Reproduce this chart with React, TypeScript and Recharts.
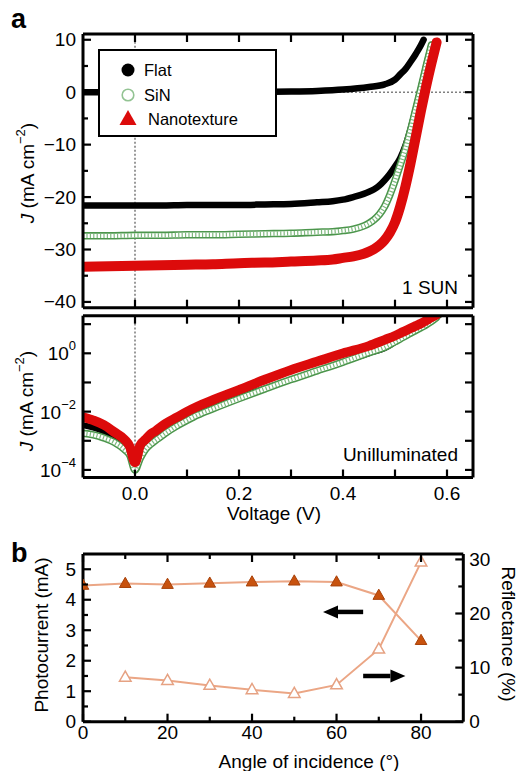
import React from 'react';
import { ComposedChart, Line, XAxis, YAxis, ReferenceLine, Legend } from 'recharts';

const FONT = '"Liberation Sans", Arial, Helvetica, sans-serif';

// ================= DATA =================
// Panel a, 1 SUN: current density J (mA cm^-2) vs voltage (V)
const lightVoltage = [-0.1, -0.05, 0, 0.05, 0.1, 0.15, 0.2, 0.25, 0.3, 0.35, 0.38, 0.4, 0.42, 0.44, 0.45, 0.46, 0.47, 0.48, 0.49, 0.5, 0.51, 0.52, 0.53, 0.54, 0.55, 0.56, 0.57, 0.58];
const flatLightJ = [-21.6, -21.6, -21.6, -21.6, -21.5, -21.5, -21.5, -21.4, -21.3, -21.0, -20.8, -20.5, -20.0, -19.4, -19.0, -18.5, -17.8, -16.8, -15.6, -14.2, -12.6, -10.2, -7.0, -3.2, 0.8, 5.0, 9.0, null];
const sinLightJ = [-27.4, -27.4, -27.3, -27.3, -27.2, -27.2, -27.1, -27.0, -26.9, -26.7, -26.6, -26.4, -26.1, -25.5, -25.0, -24.3, -23.3, -21.8, -19.6, -16.9, -13.9, -10.8, -7.2, -3.2, 0.8, 5.0, 9.0, null];
const nanoLightJ = [-33.3, -33.2, -33.1, -33.0, -32.9, -32.8, -32.6, -32.5, -32.3, -32.1, -31.9, -31.6, -31.3, -30.8, -30.4, -29.9, -29.2, -28.2, -26.8, -24.8, -21.8, -18.0, -13.5, -8.5, -3.5, 1.2, 5.5, 9.5];

// Panel a, unilluminated: |J| (mA cm^-2) vs voltage (V)
const darkVoltage = [-0.1, -0.08, -0.06, -0.04, -0.02, -0.01, 0, 0.01, 0.02, 0.03, 0.04, 0.05, 0.06, 0.08, 0.1, 0.12, 0.15, 0.2, 0.25, 0.3, 0.35, 0.4, 0.45, 0.48, 0.5, 0.51, 0.52, 0.53, 0.54, 0.55, 0.555, 0.56, 0.57, 0.58, 0.59];
const flatDarkJ = [3.4e-3, 2.8e-3, 2.1e-3, 1.4e-3, 8.0e-4, 4.5e-4, 1.3e-4, 4.0e-4, 7.0e-4, 1.05e-3, 1.45e-3, 1.9e-3, 2.5e-3, 4.0e-3, 6.3e-3, 9.1e-3, 1.5e-2, 3.2e-2, 6.3e-2, 0.126, 0.25, 0.5, 1.0, 1.5, 2.4, 3.4, 4.4, 5.8, 7.3, 9.0, 10.0, 11.5, 14.5, 18, 23];
const sinDarkJ = [1.8e-3, 1.6e-3, 1.26e-3, 8.9e-4, 5.0e-4, 3.2e-4, 1.0e-4, 2.5e-4, 5.0e-4, 7.6e-4, 1.05e-3, 1.4e-3, 1.9e-3, 3.2e-3, 5.0e-3, 7.6e-3, 1.26e-2, 2.8e-2, 6.0e-2, 0.126, 0.25, 0.5, 1.05, 1.6, 2.5, 3.1, 3.9, 4.9, 6.1, 7.6, 8.5, 9.6, 12.5, 17, null];
const nanoDarkJ = [6.5e-3, 5.0e-3, 3.5e-3, 2.0e-3, 1.1e-3, 6.3e-4, 1.8e-4, 7.0e-4, 1.1e-3, 1.7e-3, 2.2e-3, 3.0e-3, 4.0e-3, 6.3e-3, 1.0e-2, 1.5e-2, 2.5e-2, 5.6e-2, 0.126, 0.27, 0.52, 1.0, 1.8, 2.9, 4.0, 4.9, 5.9, 7.2, 8.7, 10.5, 11.8, 13.2, 17, 21, null];

// Panel b: angle of incidence (deg), photocurrent (mA), reflectance (%)
const angleDeg = [0, 10, 20, 30, 40, 50, 60, 70, 80];
const photocurrentMA = [4.47, 4.53, 4.5, 4.54, 4.58, 4.61, 4.58, 4.14, 2.66];
const reflectancePct = [null, 8.2, 7.6, 6.7, 5.9, 5.2, 6.8, 13.4, 29.5];

// Ticks
const voltTicks = [0, 0.1, 0.2, 0.3, 0.4, 0.5, 0.6];
const voltLabels = [0, 0.2, 0.4, 0.6];
const jTicks = [-40, -35, -30, -25, -20, -15, -10, -5, 0, 5, 10];
const jLabels = [-40, -30, -20, -10, 0, 10];
const logTicks = [1e-4, 1e-3, 1e-2, 1e-1, 1, 10];
const logLabels = [1e-4, 1e-2, 1];
const angleTicks = [0, 10, 20, 30, 40, 50, 60, 70, 80];
const angleLabels = [0, 20, 40, 60, 80];
const pcTicks = [0, 0.5, 1, 1.5, 2, 2.5, 3, 3.5, 4, 4.5, 5];
const pcLabels = [0, 1, 2, 3, 4, 5];
const rfTicks = [0, 5, 10, 15, 20, 25, 30];
const rfLabels = [0, 10, 20, 30];

const legendNames = ['Flat', 'SiN', 'Nanotexture'];

// Annotation arrows in panel b (data coordinates)
const arrowNotes = [
  { axis: 'pc', from: { x: 66.3, y: 3.6 }, to: { x: 56.8, y: 3.6 } },
  { axis: 'rf', from: { x: 66.3, y: 8.45 }, to: { x: 76.3, y: 8.45 } },
];

// ================= TABLES =================
const lightRows = lightVoltage.map((v, i) => ({ v, flat: flatLightJ[i], sin: sinLightJ[i], nano: nanoLightJ[i] }));
const darkRows = darkVoltage.map((v, i) => ({ v, flat: flatDarkJ[i], sin: sinDarkJ[i], nano: nanoDarkJ[i] }));
const flatDarkLinear = darkRows
  .filter((r) => r.flat !== null && (r.flat as number) <= 10.5)
  .map((r) => ({ v: r.v, j: r.flat }));
const angleRows = angleDeg.map((a, i) => ({ angle: a, pc: photocurrentMA[i], rf: reflectancePct[i] }));

// ================= STYLE =================
const BLACK = '#000000';
const RED = '#dc0b0b';
const SIN_EDGE = '#4c964c';
const SIN_HATCH = '#7fb97f';
const ORANGE_FILL = '#c8520e';
const ORANGE_LINE = '#eba685';
const AXIS_LINE = { stroke: '#000', strokeWidth: 3 };

type Side = 'left' | 'right' | 'top' | 'bottom';
const sameVal = (a: number, b: number) => Math.abs(a - b) <= 1e-9 + 1e-6 * Math.abs(b);

function makeTick(
  side: Side,
  labeled: number[],
  fmt: ((v: number) => React.ReactNode) | null,
  o: { gap?: number; size?: number; majorLen?: number; minorLen?: number } = {}
) {
  const gap = o.gap ?? 7;
  const size = o.size ?? 19;
  const majorLen = o.majorLen ?? 8;
  const minorLen = o.minorLen ?? 5;
  return (p: any) => {
    const x = Number(p.x);
    const y = Number(p.y);
    const v = Number(p.payload?.value);
    const isMajor = labeled.some((m) => sameVal(v, m));
    const len = isMajor ? majorLen : minorLen;
    let l = [x, y, x, y];
    let label: React.ReactNode = null;
    const show = fmt !== null && isMajor;
    const common = { fontSize: size, fontFamily: FONT, fill: '#000' };
    if (side === 'left') {
      l = [x, y, x + len, y];
      if (show) label = <text x={x - gap} y={y} textAnchor="end" dominantBaseline="central" {...common}>{fmt!(v)}</text>;
    } else if (side === 'right') {
      l = [x, y, x - len, y];
      if (show) label = <text x={x + gap} y={y} textAnchor="start" dominantBaseline="central" {...common}>{fmt!(v)}</text>;
    } else if (side === 'top') {
      l = [x, y, x, y + len];
    } else {
      l = [x, y, x, y - len];
      if (show) label = <text x={x} y={y + gap} textAnchor="middle" dominantBaseline="central" {...common}>{fmt!(v)}</text>;
    }
    return (
      <g>
        <line x1={l[0]} y1={l[1]} x2={l[2]} y2={l[3]} stroke="#000" strokeWidth={2.2} />
        {label}
      </g>
    );
  };
}

const fmtSigned = (v: number) => (v < 0 ? `\u2212${-v}` : `${v}`);
const fmtVolt = (v: number) => v.toFixed(1);
const fmtLog = (v: number) => {
  const e = Math.round(Math.log10(v));
  return [
    <tspan key="b">10</tspan>,
    <tspan key="e" dy={-8} fontSize={13}>{e < 0 ? `\u2212${-e}` : `${e}`}</tspan>,
  ];
};

const axisCommon = {
  tickLine: false as const,
  tickSize: 0,
  tickMargin: 0,
  interval: 0 as const,
  allowDataOverflow: true,
  axisLine: AXIS_LINE,
};

const lineCommon = {
  dot: false as const,
  activeDot: false as const,
  isAnimationActive: false,
  type: 'monotone' as const,
  strokeLinecap: 'round' as const,
  strokeLinejoin: 'round' as const,
  connectNulls: false,
};

function ringLines(id: string, dataKey: string, xId: string, yId: string, data?: any[]) {
  return [
    <Line key={id + 'a'} {...lineCommon} xAxisId={xId} yAxisId={yId} data={data} dataKey={dataKey} stroke={SIN_EDGE} strokeWidth={7.5} />,
    <Line key={id + 'b'} {...lineCommon} xAxisId={xId} yAxisId={yId} data={data} dataKey={dataKey} stroke="#ffffff" strokeWidth={4.4} />,
    <Line key={id + 'c'} {...lineCommon} xAxisId={xId} yAxisId={yId} data={data} dataKey={dataKey} stroke={SIN_HATCH} strokeWidth={4.4} strokeLinecap="butt" strokeDasharray="1.2 2.2" />,
  ];
}

const LegendBox = () => (
  <svg width={179} height={88} style={{ display: 'block' }}>
    <rect x={1} y={1} width={177} height={86} fill="#fff" stroke="#000" strokeWidth={2} />
    <circle cx={30} cy={21} r={6.5} fill={BLACK} />
    <text x={46} y={21} dominantBaseline="central" fontSize={16.5} fontFamily={FONT}>{legendNames[0]}</text>
    <circle cx={30} cy={46} r={5.8} fill="#fff" stroke="#93c393" strokeWidth={1.6} />
    <text x={46} y={46} dominantBaseline="central" fontSize={16.5} fontFamily={FONT}>{legendNames[1]}</text>
    <polygon points="30,61 21.5,76 38.5,76" fill={RED} />
    <text x={50} y={70} dominantBaseline="central" fontSize={16.5} fontFamily={FONT}>{legendNames[2]}</text>
  </svg>
);

const TriDot = (p: any) => {
  const { cx, cy, filled, index } = p;
  if (cx == null || cy == null || Number.isNaN(cx) || Number.isNaN(cy)) return <g key={`n${index}`} />;
  const pts = `${cx},${cy - 6.3} ${cx - 5.8},${cy + 3.9} ${cx + 5.8},${cy + 3.9}`;
  return (
    <polygon
      key={`t${index}`}
      points={pts}
      fill={filled ? ORANGE_FILL : '#ffffff'}
      stroke={filled ? '#a8420a' : '#e6a283'}
      strokeWidth={filled ? 1 : 1.5}
    />
  );
};

const ArrowShape = (p: any) => {
  const { x1, y1, x2, y2 } = p;
  const dir = Math.sign(x2 - x1);
  const head = 15;
  const half = 6.5;
  const bx = x2 - dir * head;
  return (
    <g>
      <line x1={x1} y1={y1} x2={bx} y2={y2} stroke="#000" strokeWidth={4.5} />
      <polygon points={`${x2},${y2} ${bx},${y2 - half} ${bx},${y2 + half}`} fill="#000" />
    </g>
  );
};

function TopPanel() {
  return (
    <ComposedChart width={519} height={312} data={lightRows} margin={{ top: 33, right: 45, bottom: 3.3, left: 23 }}>
      <XAxis xAxisId="b" type="number" dataKey="v" domain={[-0.1, 0.65]} ticks={voltTicks} orientation="bottom" height={1} tick={makeTick('bottom', voltTicks, null)} {...axisCommon} />
      <XAxis xAxisId="t" type="number" dataKey="v" domain={[-0.1, 0.65]} ticks={voltTicks} orientation="top" height={1} tick={makeTick('top', voltTicks, null)} {...axisCommon} />
      <YAxis yAxisId="l" type="number" domain={[-41.1, 11.1]} ticks={jTicks} width={60} tick={makeTick('left', jLabels, fmtSigned)} {...axisCommon} />
      <YAxis yAxisId="r" type="number" orientation="right" domain={[-41.1, 11.1]} ticks={jTicks} width={1} tick={makeTick('right', jLabels, null)} {...axisCommon} />
      <ReferenceLine xAxisId="b" yAxisId="l" y={0} stroke="#808080" strokeWidth={1.6} strokeDasharray="2 2" />
      <ReferenceLine xAxisId="b" yAxisId="l" x={0} stroke="#808080" strokeWidth={1.6} strokeDasharray="2 2" />
      <Line {...lineCommon} xAxisId="b" yAxisId="l" data={flatDarkLinear} dataKey="j" stroke={BLACK} strokeWidth={6.5} />
      <Line {...lineCommon} xAxisId="b" yAxisId="l" dataKey="flat" stroke={BLACK} strokeWidth={6.5} />
      {ringLines('sinL', 'sin', 'b', 'l')}
      <Line {...lineCommon} xAxisId="b" yAxisId="l" dataKey="nano" stroke={RED} strokeWidth={10} />
      <Legend
        layout="vertical"
        verticalAlign="middle"
        align="center"
        content={() => <LegendBox />}
        wrapperStyle={{ left: 98, top: 49, width: 179, height: 88, margin: 0, padding: 0, lineHeight: 0 }}
      />
    </ComposedChart>
  );
}

function LogPanel() {
  return (
    <ComposedChart width={519} height={218} data={darkRows} margin={{ top: 2.7, right: 45, bottom: 51.5, left: 23 }}>
      <XAxis xAxisId="b" type="number" dataKey="v" domain={[-0.1, 0.65]} ticks={voltTicks} orientation="bottom" height={1} tick={makeTick('bottom', voltLabels, fmtVolt, { gap: 15.5, minorLen: 8 })} {...axisCommon} />
      <XAxis xAxisId="t" type="number" dataKey="v" domain={[-0.1, 0.65]} ticks={voltTicks} orientation="top" height={1} tick={makeTick('top', voltTicks, null)} {...axisCommon} />
      <YAxis yAxisId="l" type="number" scale="log" domain={[5.5e-5, 19.5]} ticks={logTicks} width={60} tick={makeTick('left', logLabels, fmtLog, { minorLen: 8 })} {...axisCommon} />
      <YAxis yAxisId="r" type="number" scale="log" orientation="right" domain={[5.5e-5, 19.5]} ticks={logTicks} width={1} tick={makeTick('right', logTicks, null)} {...axisCommon} />
      <ReferenceLine xAxisId="b" yAxisId="l" x={0} stroke="#808080" strokeWidth={1.6} strokeDasharray="2 2" />
      <Line {...lineCommon} xAxisId="b" yAxisId="l" dataKey="flat" stroke={BLACK} strokeWidth={6} />
      {ringLines('sinD', 'sin', 'b', 'l')}
      <Line {...lineCommon} xAxisId="b" yAxisId="l" dataKey="nano" stroke={RED} strokeWidth={9.5} />
    </ComposedChart>
  );
}

function AnglePanel() {
  return (
    <ComposedChart width={519} height={241} data={angleRows} margin={{ top: 23, right: 54.7, bottom: 48.3, left: 23 }}>
      <XAxis xAxisId="b" type="number" dataKey="angle" domain={[0, 90]} ticks={angleTicks} orientation="bottom" height={1} tick={makeTick('bottom', angleLabels, (v) => `${v}`, { gap: 10.5 })} {...axisCommon} />
      <XAxis xAxisId="t" type="number" dataKey="angle" domain={[0, 90]} ticks={angleTicks} orientation="top" height={1} tick={makeTick('top', angleLabels, null)} {...axisCommon} />
      <YAxis yAxisId="pc" type="number" domain={[0, 5.5]} ticks={pcTicks} width={60} tick={makeTick('left', pcLabels, (v) => `${v}`)} {...axisCommon} />
      <YAxis yAxisId="rf" type="number" orientation="right" domain={[0, 31]} ticks={rfTicks} width={1} tick={makeTick('right', rfLabels, (v) => `${v}`, { gap: 6 })} {...axisCommon} />
      <Line xAxisId="b" yAxisId="rf" dataKey="rf" type="linear" stroke={ORANGE_LINE} strokeWidth={2} isAnimationActive={false} activeDot={false}
        dot={(p: any) => <TriDot key={`rf${p.index}`} {...p} filled={false} />} />
      <Line xAxisId="b" yAxisId="pc" dataKey="pc" type="linear" stroke={ORANGE_LINE} strokeWidth={2} isAnimationActive={false} activeDot={false}
        dot={(p: any) => <TriDot key={`pc${p.index}`} {...p} filled />} />
      {arrowNotes.map((a, i) => (
        <ReferenceLine key={`arr${i}`} xAxisId="b" yAxisId={a.axis} segment={[a.from, a.to]} shape={ArrowShape} />
      ))}
    </ComposedChart>
  );
}

export default function App() {
  return (
    <div style={{ position: 'absolute', left: 0, top: 0, width: 519, height: 771, background: '#fff', overflow: 'hidden', fontFamily: FONT }}>
      <div style={{ position: 'absolute', left: 0, top: 0 }}>
        <TopPanel />
      </div>
      <div style={{ position: 'absolute', left: 0, top: 312 }}>
        <LogPanel />
      </div>
      <div style={{ position: 'absolute', left: 0, top: 530 }}>
        <AnglePanel />
      </div>
      <svg width={519} height={771} style={{ position: 'absolute', left: 0, top: 0, pointerEvents: 'none' }} fontFamily={FONT}>
        <text x={11} y={28} fontSize={27} fontWeight="bold">a</text>
        <text x={11} y={562} fontSize={27} fontWeight="bold">b</text>
        <text x={458} y={287} textAnchor="end" dominantBaseline="central" fontSize={19}>1 SUN</text>
        <text x={458} y={454} textAnchor="end" dominantBaseline="central" fontSize={19}>Unilluminated</text>
        <text x={274} y={513} textAnchor="middle" dominantBaseline="central" fontSize={19}>Voltage (V)</text>
        <text transform="translate(27,173) rotate(-90)" textAnchor="middle" dominantBaseline="central" fontSize={19}>
          <tspan fontStyle="italic">J</tspan> (mA cm<tspan dy={-7} fontSize={13}>{'\u22122'}</tspan><tspan dy={7}>)</tspan>
        </text>
        <text transform="translate(26,401) rotate(-90)" textAnchor="middle" dominantBaseline="central" fontSize={19}>
          <tspan fontStyle="italic">J</tspan> (mA cm<tspan dy={-7} fontSize={13}>{'\u22122'}</tspan><tspan dy={7}>)</tspan>
        </text>
        <text transform="translate(41,635) rotate(-90)" textAnchor="middle" dominantBaseline="central" fontSize={19}>Photocurrent (mA)</text>
        <text transform="translate(508,634) rotate(90)" textAnchor="middle" dominantBaseline="central" fontSize={19}>Reflectance (%)</text>
        <text x={309} y={761} textAnchor="middle" dominantBaseline="central" fontSize={19}>Angle of incidence (°)</text>
      </svg>
    </div>
  );
}
